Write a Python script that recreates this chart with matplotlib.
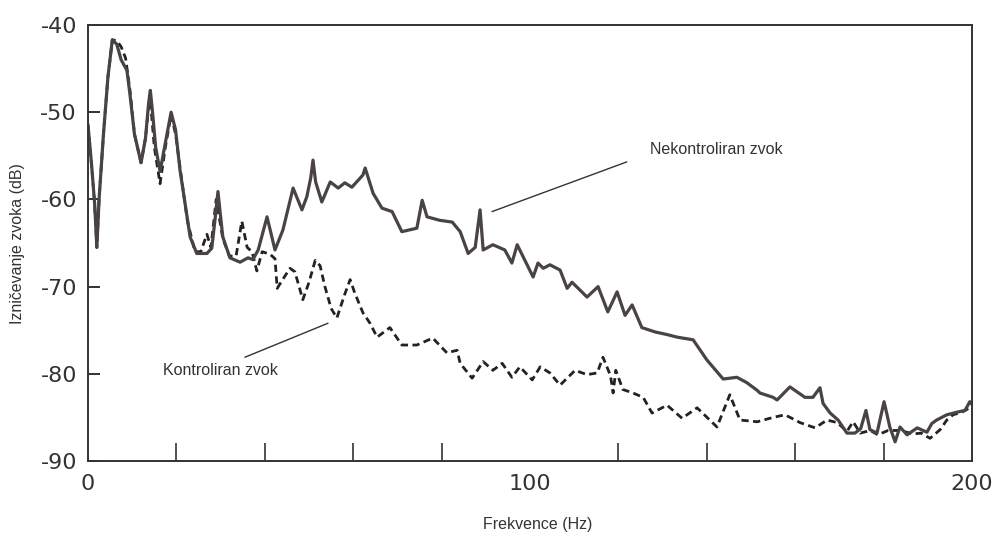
import matplotlib
matplotlib.use("Agg")
import matplotlib.pyplot as plt
from matplotlib.ticker import FixedLocator

# Uncontrolled sound (solid)
freq_unc = [0, 0.8, 1.5, 2, 2.5, 3.5, 4.5, 5.5, 6.5, 7.5, 8.8, 9.5, 10.5, 12, 13, 13.7, 14.1, 14.6,
            15.3, 16.3, 17.5, 18.8, 19.8, 20.8, 23.1, 24.6, 26.9, 28, 28.8, 29.4, 30, 30.5, 32.1,
            34.4, 36.2, 37.3, 38.5, 40.5, 42.3, 44.1, 46.4, 48.4, 49.5, 50.4, 50.9, 51.5, 52.9,
            54.8, 56.6, 58.1, 59.7, 62.2, 62.7, 64.5, 66.5, 68.8, 71, 74.4, 75.6, 76.7, 79.6,
            82.4, 84.2, 86, 87.6, 88.7, 89.4, 91.6, 94.3, 95.9, 97.1, 100.7, 101.8, 103, 104.5,
            106.8, 108.4, 109.5, 112.9, 115.4, 117.6, 119.7, 121.5, 123.1, 125.3, 128.3, 131,
            133.3, 136.9, 140, 143.7, 146.8, 149, 151.4, 152, 155, 155.9, 158.8, 162.2, 164, 165.6,
            166.3, 167.9, 169.7, 171.7, 173.5, 174.8, 176, 176.9, 178.5, 180.1, 181.4, 182.6,
            183.7, 185.3, 187.6, 189.8, 190.9, 192, 194.3, 196.6, 198.4, 199.5, 200]
db_unc = [-51.5, -56, -60.5, -65.5, -60, -52.5, -46, -41.7, -42.2, -44, -45.2, -48, -52.5, -55.8,
          -53, -49, -47.5, -50, -54, -56.8, -53.5, -50, -52, -56.6, -64.3, -66.2, -66.2, -65.6,
          -62, -59.1, -62, -64.3, -66.7, -67.2, -66.7, -66.9, -65.8, -62, -65.8, -63.5, -58.7,
          -61.2, -59.7, -57.5, -55.5, -58, -60.3, -58, -58.7, -58.1, -58.6, -57.2, -56.4, -59.3,
          -61, -61.4, -63.7, -63.3, -60.1, -62, -62.4, -62.6, -63.7, -66.2, -65.5, -61.2, -65.8,
          -65.2, -65.8, -67.3, -65.2, -68.9, -67.3, -67.9, -67.5, -68.1, -70.2, -69.5, -71.2,
          -70, -72.9, -70.6, -73.3, -72.1, -74.7, -75.2, -75.5, -75.8, -76.1, -78.4, -80.6,
          -80.4, -81, -81.9, -82.2, -82.7, -83, -81.5, -82.7, -82.7, -81.6, -83.4, -84.5, -85.3,
          -86.8, -86.8, -86.3, -84.2, -86.4, -86.8, -83.2, -86.1, -87.8, -86.1, -87, -86.2,
          -86.7, -85.7, -85.3, -84.7, -84.4, -84.2, -83.2, -83.5]

# Controlled sound (dashed)
freq_ctl = [0, 0.8, 1.5, 2, 2.5, 3.5, 4.5, 5.5, 6.5, 7.5, 8.5, 9.5, 10.5, 12, 13, 14, 15, 16.3,
            17.5, 18.8, 19.8, 21, 22.5, 24.2, 25.5, 26.9, 27.8, 29, 30.5, 32, 33.5, 34.8, 36,
            37.1, 38.2, 39.4, 41.2, 42.3, 42.8, 43.9, 45.7, 46.8, 48.6, 50, 51.4, 52.5, 53.6, 55,
            56.3, 58, 59.3, 60.4, 62.2, 63.8, 65.4, 68.3, 71, 74.4, 78, 81.2, 83.5, 84.2, 86.9,
            89.4, 91.6, 93.7, 95.9, 97.7, 100.5, 102.3, 104.5, 106.8, 110.2, 112.9, 115.2, 116.5,
            118.2, 118.8, 119.4, 121, 123.3, 125.6, 127.6, 131, 134.4, 137.8, 142.3, 145.2, 147.5,
            151.4, 155, 157.7, 161.1, 164.5, 167.2, 169.5, 171.7, 173.1, 174.7, 177, 178.7, 181,
            183.7, 186.7, 188.5, 190.5, 192.8, 194.3, 195.7, 197.7, 199.5, 200]
db_ctl = [-51.5, -56, -60.5, -65.5, -60, -52.5, -46, -41.7, -41.8, -42.5, -43.8, -47.5, -52.5,
          -55.8, -53, -48, -54, -58.2, -54, -50.3, -52.5, -57, -62.5, -66, -66, -64, -65.5, -60,
          -64.5, -66.5, -66.5, -62.5, -65.5, -66, -68.2, -66, -66.3, -66.8, -70.2, -69.3, -67.9,
          -68.3, -71.5, -69.5, -67, -67.6, -70, -72.5, -73.6, -71, -69.2, -70.8, -73, -74.2,
          -75.8, -74.7, -76.7, -76.7, -75.9, -77.6, -77.3, -78.8, -80.5, -78.6, -79.6, -78.8,
          -80.4, -79.2, -80.7, -79.2, -79.9, -81.3, -79.6, -80.1, -79.9, -78.1, -80.2, -82.2,
          -79.6, -81.8, -82.2, -82.7, -84.5, -83.6, -85.1, -83.9, -86.1, -82.4, -85.3, -85.5,
          -85, -84.7, -85.6, -86.2, -85.3, -85.6, -86.6, -85.5, -86.8, -86.5, -87, -86.5, -86.5,
          -86.9, -86.8, -87.4, -86.4, -85.3, -84.7, -84.4, -83.9, -83.8]

x_major = [0, 100, 200]
x_minor = [20, 40, 60, 80, 100, 120, 140, 160, 180]
y_ticks = [-90, -80, -70, -60, -50, -40]

label_unc = "Nekontroliran zvok"
label_ctl = "Kontroliran zvok"
unc_text_pos = (127.1, -54.3)
unc_line = [(91.4, -61.4), (121.9, -55.7)]
ctl_text_pos = (17.0, -79.6)
ctl_line = [(35.5, -78.1), (54.3, -74.2)]

fig = plt.figure(figsize=(9.99, 5.34), dpi=100)
ax = fig.add_axes([0.0881, 0.1367, 0.8849, 0.8165])

ax.plot(freq_ctl, db_ctl, color="#222222", lw=2.0, linestyle=(0, (2.6, 1.6)))
ax.plot(freq_unc, db_unc, color="#4a4343", lw=2.3, solid_joinstyle="round")

ax.set_xlim(0, 200)
ax.set_ylim(-90, -40)

for s in ax.spines.values():
    s.set_color("#333333")
    s.set_linewidth(1.4)

ax.xaxis.set_major_locator(FixedLocator(x_major))
ax.xaxis.set_minor_locator(FixedLocator(x_minor))
ax.set_xticklabels([str(v) for v in x_major])
ax.tick_params(axis="x", which="major", length=0, pad=9, labelsize=16, labelcolor="#333333")
ax.tick_params(axis="x", which="minor", direction="in", length=13, width=1.2, color="#333333")
ax.set_yticks(y_ticks)
ax.set_yticklabels([str(v) for v in y_ticks])
ax.tick_params(axis="y", which="major", direction="in", length=8.5, width=1.4, color="#333333",
               pad=8, labelsize=16, labelcolor="#333333")

ax.annotate("", xy=unc_line[0], xytext=unc_line[1],
            arrowprops=dict(arrowstyle="-", lw=1.0, color="#333333", shrinkA=0, shrinkB=0))
ax.annotate("", xy=ctl_line[1], xytext=ctl_line[0],
            arrowprops=dict(arrowstyle="-", lw=1.0, color="#333333", shrinkA=0, shrinkB=0))
ax.text(unc_text_pos[0], unc_text_pos[1], label_unc, ha="left", va="center",
        fontsize=11.5, family="Liberation Sans", color="#333333")
ax.text(ctl_text_pos[0], ctl_text_pos[1], label_ctl, ha="left", va="center",
        fontsize=11.5, family="Liberation Sans", color="#333333")

fig.text(538 / 999, 1 - 524 / 534, "Frekvence (Hz)", ha="center", va="center",
         fontsize=11.5, family="Liberation Sans", color="#333333")
fig.text(18 / 999, 1 - 244 / 534, "Izničevanje zvoka (dB)", ha="center", va="center",
         rotation=90, fontsize=11.5, family="Liberation Sans", color="#333333")

fig.savefig("out.png", dpi=100, facecolor="white")
